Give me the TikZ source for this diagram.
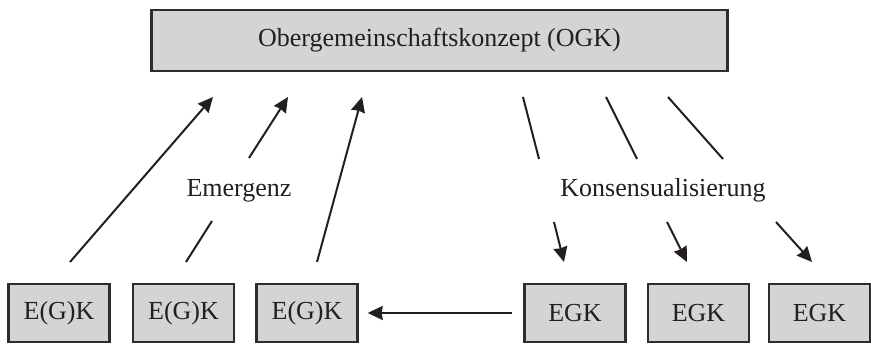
\documentclass[tikz,border=0pt]{standalone}
\usepackage{fontspec}
\setmainfont{Liberation Serif}
\usetikzlibrary{arrows.meta}
\definecolor{boxfill}{RGB}{211,212,214}
\definecolor{ink}{RGB}{35,31,32}
\definecolor{rim}{RGB}{45,45,45}
\begin{document}
\begin{tikzpicture}[x=1pt,y=-1pt,
  box/.style={draw=rim,line width=2.4pt,fill=boxfill,inner sep=0pt,
    text=ink,font=\fontsize{26}{28}\selectfont},
  small/.style={box,minimum width=101pt,minimum height=57.5pt},
  lab/.style={text=ink,font=\fontsize{26}{28}\selectfont,anchor=base,inner sep=0pt},
  arr/.style={draw=ink,line width=2pt,-{Stealth[length=15pt,width=14pt,inset=1pt]}},
  seg/.style={draw=ink,line width=2pt}]
\useasboundingbox (0,0) rectangle (871,344);

% upper concept
\node[box,minimum width=576pt,minimum height=60.5pt] (ogk) at (439.5,40.5)
  {Obergemeinschaftskonzept (OGK)};

% lower row
\node[small] (eg1) at (59,313) {E(G)K};
\node[small] (eg2) at (183.5,313) {E(G)K};
\node[small] (eg3) at (307,313) {E(G)K};
\node[small] (egk1) at (575,313) {EGK};
\node[small] (egk2) at (698.5,313) {EGK};
\node[small] (egk3) at (819.5,313) {EGK};

% labels
\node[lab] (emer) at (239,197) {Emergenz};
\node[lab] (kons) at (663,197) {Konsensualisierung};

% emergence arrow end points
\coordinate (e1s) at (70,262);   \coordinate (e1t) at (213,97);
\coordinate (e2s) at (186,262);  \coordinate (e2m) at (212,221);
\coordinate (e2n) at (249,158);  \coordinate (e2t) at (288,97);
\coordinate (e3s) at (317,262);  \coordinate (e3t) at (362,97);

\draw[arr] (e1s) -- (e1t);
\draw[seg] (e2s) -- (e2m);
\draw[arr] (e2n) -- (e2t);
\draw[arr] (e3s) -- (e3t);

% consensus arrow end points
\coordinate (k1s) at (523,97);  \coordinate (k1m) at (539,159);
\coordinate (k1n) at (554,222); \coordinate (k1t) at (564,262);
\coordinate (k2s) at (606,97);  \coordinate (k2m) at (637,159);
\coordinate (k2n) at (667,222); \coordinate (k2t) at (687,262);
\coordinate (k3s) at (668,97);  \coordinate (k3m) at (723,159);
\coordinate (k3n) at (776,222); \coordinate (k3t) at (812,262);

\draw[seg] (k1s) -- (k1m);  \draw[arr] (k1n) -- (k1t);
\draw[seg] (k2s) -- (k2m);  \draw[arr] (k2n) -- (k2t);
\draw[seg] (k3s) -- (k3m);  \draw[arr] (k3n) -- (k3t);

% transfer between the rows
\draw[arr] ([xshift=-11pt]egk1.west) -- ([xshift=9pt]eg3.east);
\end{tikzpicture}
\end{document}
